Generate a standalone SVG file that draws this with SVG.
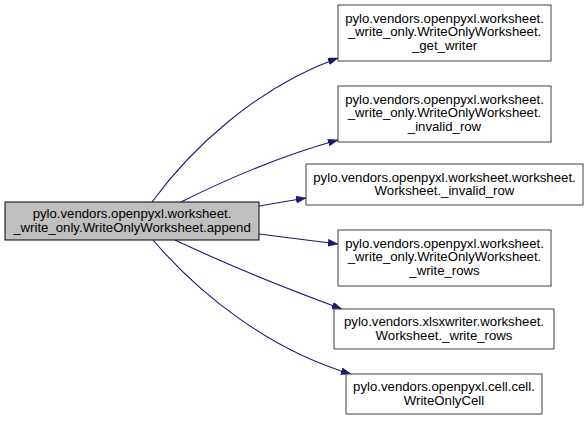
<svg xmlns="http://www.w3.org/2000/svg" width="588" height="421" viewBox="0 0 588 421">
<style>
.bg{fill:#ffffff}
.n rect{fill:#ffffff;stroke:#404040;stroke-width:1}
#main rect{fill:#bfbfbf;stroke:#000000}
.n text{font-family:"Liberation Sans",Arial,sans-serif;font-size:13.2px;fill:#000000;text-anchor:middle}
.e path{fill:none;stroke:#191970;stroke-width:1.1}
</style>
<defs>
<marker id="ah" markerUnits="userSpaceOnUse" markerWidth="11" markerHeight="8" refX="10" refY="3.5" orient="auto">
<path d="M0,0 L10,3.5 L0,7 z" fill="#191970" stroke="#191970" stroke-width="0.5"/>
</marker>
</defs>
<rect class="bg" x="0" y="0" width="588" height="421"/>
<g id="edges" class="e">
<path d="M152,202 C190,150 255,88 338,58" marker-end="url(#ah)"/>
<path d="M181,202 C225,180 280,156 338,140" marker-end="url(#ah)"/>
<path d="M259,206 L306,198" marker-end="url(#ah)"/>
<path d="M259,234 L338,244" marker-end="url(#ah)"/>
<path d="M175,240 C230,266 290,290 342,309" marker-end="url(#ah)"/>
<path d="M153,240 C200,295 270,350 351,374" marker-end="url(#ah)"/>
</g>
<g id="main" class="n">
<rect x="5" y="202" width="254" height="38"/>
<text x="132" y="218">pylo.vendors.openpyxl.worksheet.</text>
<text x="132" y="232">_write_only.WriteOnlyWorksheet.append</text>
</g>
<g id="n1" class="n">
<rect x="338" y="5" width="213" height="56"/>
<text x="444.5" y="22.5">pylo.vendors.openpyxl.worksheet.</text>
<text x="444.5" y="36">_write_only.WriteOnlyWorksheet.</text>
<text x="444.5" y="49.5">_get_writer</text>
</g>
<g id="n2" class="n">
<rect x="338" y="86" width="213" height="56"/>
<text x="444.5" y="103.5">pylo.vendors.openpyxl.worksheet.</text>
<text x="444.5" y="117">_write_only.WriteOnlyWorksheet.</text>
<text x="444.5" y="130.5">_invalid_row</text>
</g>
<g id="n3" class="n">
<rect x="306" y="164" width="277" height="41"/>
<text x="444.5" y="181.5">pylo.vendors.openpyxl.worksheet.worksheet.</text>
<text x="444.5" y="195">Worksheet._invalid_row</text>
</g>
<g id="n4" class="n">
<rect x="338" y="230" width="213" height="56"/>
<text x="444.5" y="247.5">pylo.vendors.openpyxl.worksheet.</text>
<text x="444.5" y="261">_write_only.WriteOnlyWorksheet.</text>
<text x="444.5" y="274.5">_write_rows</text>
</g>
<g id="n5" class="n">
<rect x="334" y="309" width="220" height="40"/>
<text x="444" y="326">pylo.vendors.xlsxwriter.worksheet.</text>
<text x="444" y="339.5">Worksheet._write_rows</text>
</g>
<g id="n6" class="n">
<rect x="346" y="374" width="196" height="40"/>
<text x="444" y="391">pylo.vendors.openpyxl.cell.cell.</text>
<text x="444" y="404.5">WriteOnlyCell</text>
</g>
</svg>
